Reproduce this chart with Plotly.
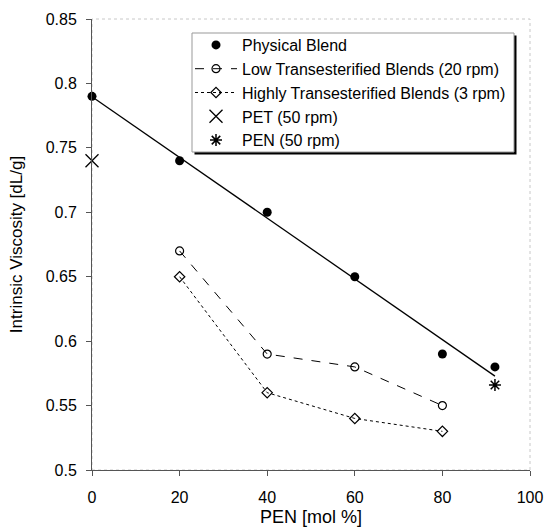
import numpy as np
import plotly.graph_objects as go

# Intrinsic viscosity of PET/PEN blends versus PEN content
pen_physical = [0, 20, 40, 60, 80, 92]
iv_physical = [0.79, 0.74, 0.70, 0.65, 0.59, 0.58]

pen_trans = [20, 40, 60, 80]
iv_low_trans = [0.67, 0.59, 0.58, 0.55]
iv_high_trans = [0.65, 0.56, 0.54, 0.53]

pen_pet = [0]
iv_pet = [0.74]
pen_pen = [92]
iv_pen = [0.566]

x_ticks = [0, 20, 40, 60, 80, 100]
y_ticks = [0.5, 0.55, 0.6, 0.65, 0.7, 0.75, 0.8, 0.85]

FONT = "Liberation Sans, Arial, sans-serif"

W, H = 546, 527
ML, MR, MT, MB = 92, 16, 19, 57
PW, PH = W - ML - MR, H - MT - MB


def px_x(px):
    return (px - ML) / PW


def px_y(py):
    return (H - MB - py) / PH


# linear fit through the physical blend points
slope, intercept = np.polyfit(pen_physical, iv_physical, 1)
fit_x = np.array([min(pen_physical), max(pen_physical)])
fit_y = slope * fit_x + intercept

fig = go.Figure()

fig.add_trace(go.Scatter(
    x=fit_x, y=fit_y, mode="lines", showlegend=False,
    line=dict(color="black", width=1.3), cliponaxis=False, hoverinfo="skip"))

fig.add_trace(go.Scatter(
    x=pen_physical, y=iv_physical, mode="markers", name="Physical Blend",
    marker=dict(symbol="circle", size=9, color="black"), cliponaxis=False))

fig.add_trace(go.Scatter(
    x=pen_trans, y=iv_low_trans, mode="lines+markers",
    name="Low Transesterified Blends (20 rpm)",
    line=dict(color="black", width=1, dash="dash"),
    marker=dict(symbol="circle-open", size=8, color="black", line=dict(width=1.2)),
    cliponaxis=False))

fig.add_trace(go.Scatter(
    x=pen_trans, y=iv_high_trans, mode="lines+markers",
    name="Highly Transesterified Blends (3 rpm)",
    line=dict(color="black", width=1, dash="dot"),
    marker=dict(symbol="diamond-open", size=8, color="black", line=dict(width=1.2)),
    cliponaxis=False))

fig.add_trace(go.Scatter(
    x=pen_pet, y=iv_pet, mode="markers", name="PET (50 rpm)",
    marker=dict(symbol="x-thin-open", size=13, color="black", line=dict(width=1.3)),
    cliponaxis=False))

fig.add_trace(go.Scatter(
    x=pen_pen, y=iv_pen, mode="markers", name="PEN (50 rpm)",
    marker=dict(symbol="asterisk-open", size=10, color="black", line=dict(width=1.5)),
    cliponaxis=False))

# faint frame along the top and right of the plotting area
fig.add_shape(type="rect", xref="paper", yref="paper", x0=0, x1=1, y0=0, y1=1,
              line=dict(color="#c8c8c8", width=1, dash="dot"), layer="below")

# legend box with a drop shadow
BOX = dict(x0=px_x(192), x1=px_x(514), y0=px_y(152), y1=px_y(33))
dx, dy = 2.5 / PW, 2.5 / PH
fig.add_shape(type="rect", xref="paper", yref="paper",
              x0=BOX["x0"] + dx, x1=BOX["x1"] + dx, y0=BOX["y0"] - dy, y1=BOX["y1"] - dy,
              line=dict(width=0), fillcolor="black", layer="above")
fig.add_shape(type="rect", xref="paper", yref="paper", **BOX,
              line=dict(color="#999", width=1), fillcolor="white", layer="above")

fig.update_layout(
    width=W, height=H,
    margin=dict(l=ML, r=MR, t=MT, b=MB),
    paper_bgcolor="white", plot_bgcolor="white",
    font=dict(family=FONT, size=16, color="black"),
    showlegend=True,
    legend=dict(
        x=px_x(190), y=px_y(28), xanchor="left", yanchor="top",
        bgcolor="rgba(0,0,0,0)", borderwidth=0,
        font=dict(family=FONT, size=16), tracegroupgap=0,
        itemwidth=42),
)

fig.update_xaxes(
    range=[0, 100], tickvals=x_ticks, showgrid=False, zeroline=False,
    showline=True, linecolor="#555", linewidth=1, automargin=False,
    ticks="outside", ticklen=5, tickcolor="#555", ticklabelstandoff=8,
    title=dict(text="PEN [mol %]", standoff=6, font=dict(size=18)),
    tickfont=dict(size=16))

fig.update_yaxes(
    range=[0.5, 0.85], tickvals=y_ticks, showgrid=False, zeroline=False,
    showline=True, linecolor="#555", linewidth=1, automargin=False,
    ticks="outside", ticklen=5, tickcolor="#555", ticklabelstandoff=6,
    title=dict(text="Intrinsic Viscosity [dL/g]", standoff=18, font=dict(size=17)),
    tickfont=dict(size=16))

fig.write_html("out.html")
